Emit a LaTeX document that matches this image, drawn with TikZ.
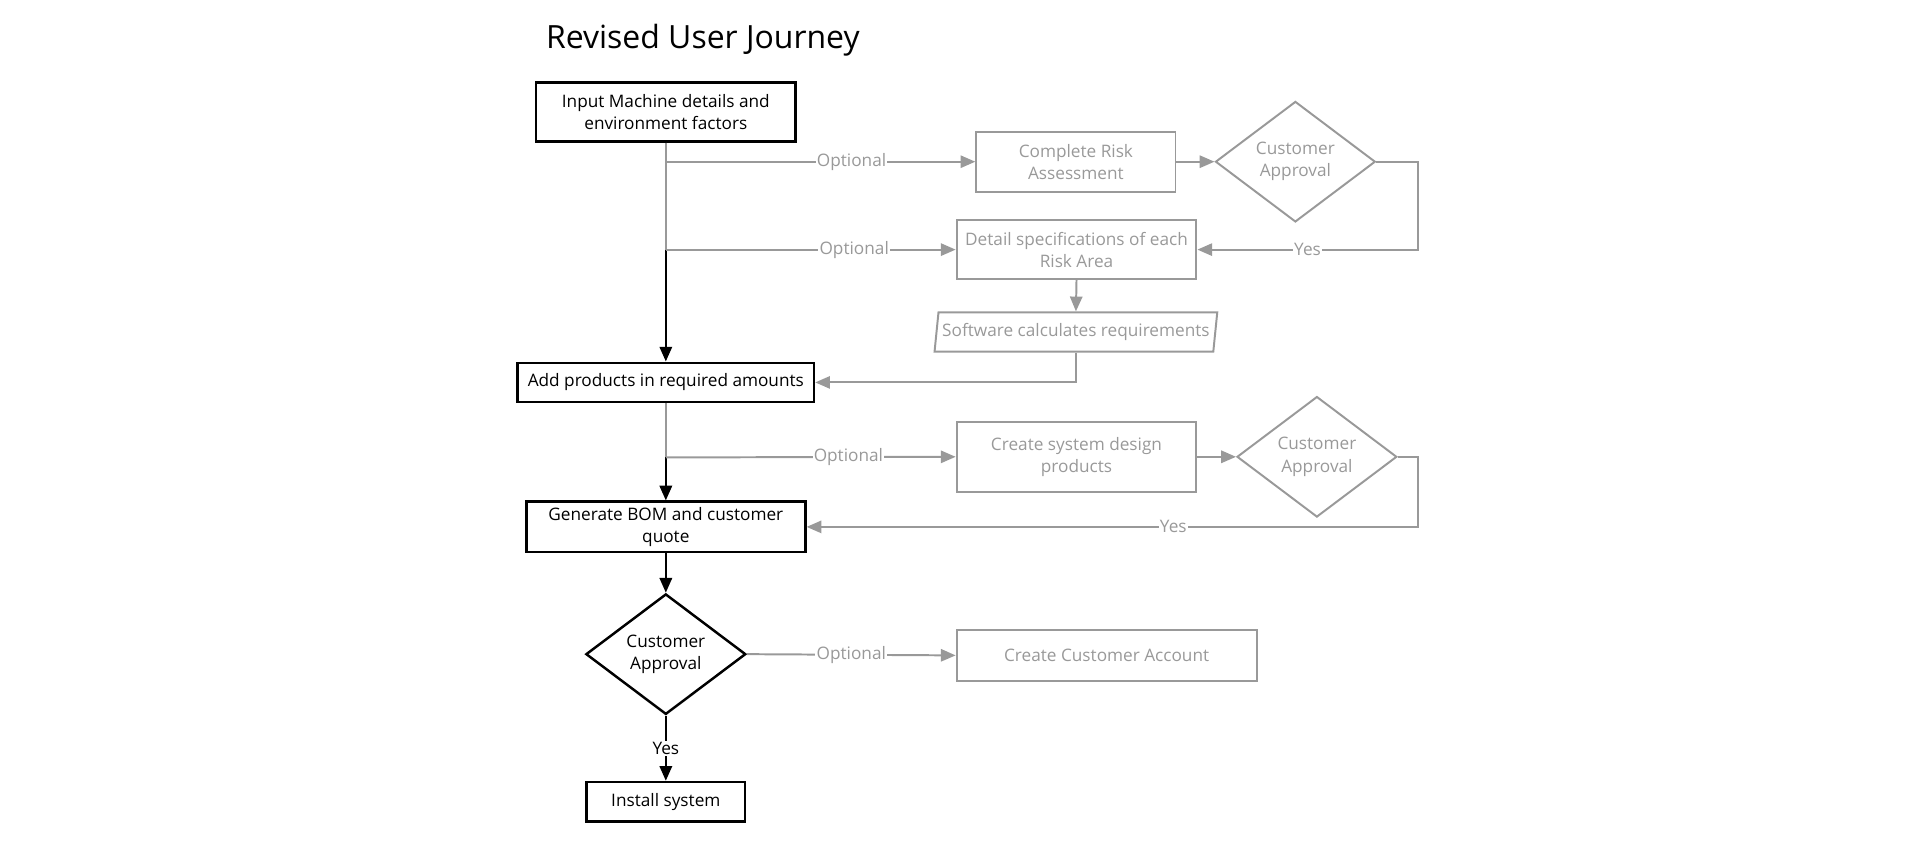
\documentclass[tikz,border=0pt]{standalone}
\usepackage{fontspec}
\setmainfont{Open Sans}
\usetikzlibrary{arrows.meta,shapes.geometric}
\definecolor{faded}{HTML}{999999}
\tikzset{
  box/.style={draw,line width=1pt,inner sep=1pt,align=center,font=\fontsize{7}{9}\selectfont},
  gbox/.style={box,draw=faded,text=faded,line width=0.8pt},
  dec/.style={box,shape=diamond,aspect=1.33,minimum width=65pt,minimum height=49pt,inner sep=0pt},
  gdec/.style={dec,draw=faded,text=faded,line width=0.8pt},
  main/.style={line width=1pt,-{Triangle[length=6pt,width=5pt]}},
  side/.style={line width=0.8pt,draw=faded,-{Triangle[length=6pt,width=5pt]},faded},
  lab/.style={fill=white,inner sep=0.5pt,font=\fontsize{7}{9}\selectfont},
}
\begin{document}
\begin{tikzpicture}[x=0.5pt,y=-0.5pt]
    \useasboundingbox (0,0) rectangle (1568,698);
    % Title
    \node[anchor=west,font=\fontsize{13}{15}\selectfont] (title) at (437,33) {Revised User Journey};
    % Main column
    \node[box,minimum width=105.5pt,minimum height=24pt] (in) at (541.5,91) {Input Machine details and\\environment factors};
    \node[box,minimum width=120.5pt,minimum height=16pt] (add) at (541.5,311) {Add products in required amounts};
    \node[box,minimum width=113.5pt,minimum height=20.5pt] (bom) at (541.5,428.5) {Generate BOM and customer\\quote};
    \node[dec] (ca3) at (541.5,532) {Customer\\Approval};
    \node[box,minimum width=64.5pt,minimum height=16pt] (inst) at (541.5,652) {Install system};
    % Optional branch
    \node[gbox,minimum width=81pt,minimum height=24.5pt] (risk) at (875,131.5) {Complete Risk\\Assessment};
    \node[gdec] (ca1) at (1053.5,131.5) {Customer\\Approval};
    \node[gbox,minimum width=97.5pt,minimum height=24pt] (detail) at (875.5,203) {Detail specifications of each\\Risk Area};
    \node[gbox,trapezium,trapezium left angle=80,trapezium right angle=100,minimum width=115pt,minimum height=16pt,trapezium stretches=true] (sw) at (875,270) {Software calculates requirements};
    \node[gbox,minimum width=97.5pt,minimum height=28.5pt] (design) at (875.5,371.5) {Create system design\\products};
    \node[gdec] (ca2) at (1071,371.5) {Customer\\Approval};
    \node[gbox,minimum width=122pt,minimum height=21pt] (acct) at (900,533) {Create Customer Account};
    % Junctions
    \coordinate (j1) at (541.5,131.5);
    \coordinate (j2) at (541.5,203);
    \coordinate (j3) at (541.5,372);
    \coordinate (r1) at (1153,131.5);
    \coordinate (r2) at (1153,371.5);
    % Main flow
    \draw[line width=0.8pt,faded] (in.south) -- (j2);
    \draw[main] (j2) -- (add.north);
    \draw[line width=0.8pt,faded] (add.south) -- (j3);
    \draw[main] (j3) -- (bom.north);
    \draw[main] (bom.south) -- (ca3.north);
    \draw[main] (ca3.south) -- node[lab,text=black] {Yes} (inst.north);
    % Side flows
    \draw[side] (j1) -- node[lab,pos=0.6] {Optional} (risk.west);
    \draw[side] (risk.east) -- (ca1.west);
    \draw[side] (ca1.east) -- (r1) |- node[lab,pos=0.75] {Yes} (detail.east);
    \draw[side] (j2) -- node[lab,pos=0.65] {Optional} (detail.west);
    \draw[side] (detail.south) -- (sw.north);
    \draw[side] (sw.south) |- (add.east);
    \draw[side] (j3) -- node[lab,pos=0.63] {Optional} (design.west);
    \draw[side] (design.east) -- (ca2.west);
    \draw[side] (ca2.east) -- (r2) |- node[lab,pos=0.7] {Yes} (bom.east);
    \draw[side] (ca3.east) -- node[lab,pos=0.5] {Optional} (acct.west);
\end{tikzpicture}
\end{document}
